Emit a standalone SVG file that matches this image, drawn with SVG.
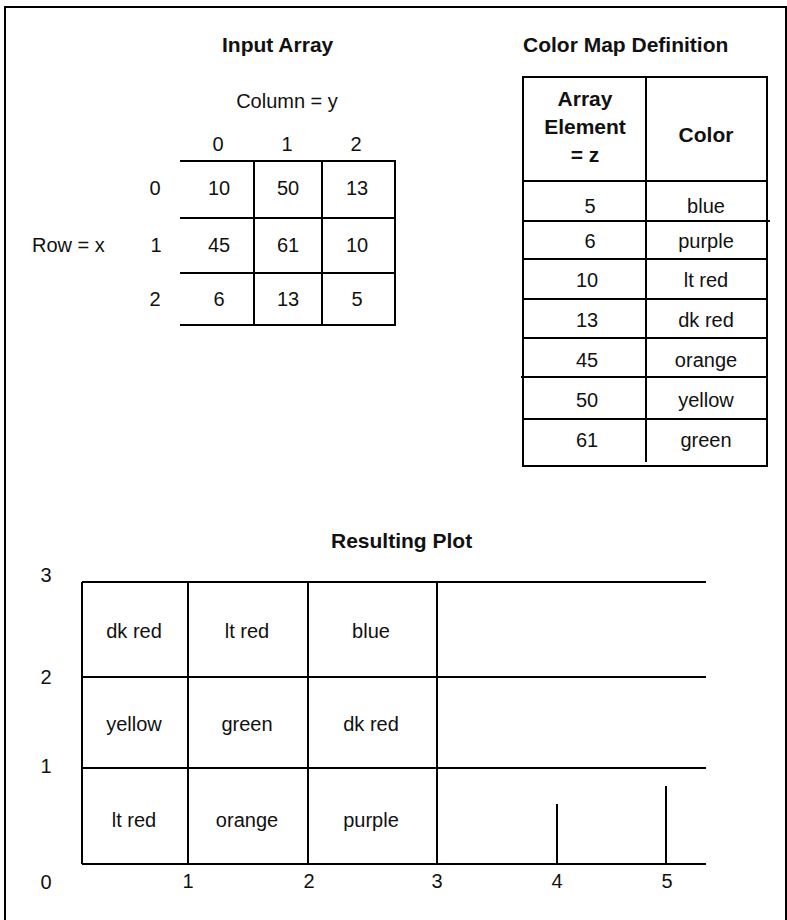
<svg xmlns="http://www.w3.org/2000/svg" width="787" height="920" viewBox="0 0 787 920">
<style>
text{font-family:"Liberation Sans",Arial,sans-serif;font-size:20px;fill:#111}
.b{font-weight:bold;font-size:21px}
.m{text-anchor:middle}
.ln{stroke:#000;stroke-width:2;fill:none}
</style>
<rect width="787" height="920" fill="#fff"/>
<path class="ln" d="M5,925 V7 H786 V925"/>
<g id="input-array">
<text class="b" x="222" y="52">Input Array</text>
<text class="m" x="287" y="108">Column = y</text>
<text class="m" x="218" y="151">0</text>
<text class="m" x="287" y="151">1</text>
<text class="m" x="356" y="151">2</text>
<text x="32" y="252">Row = x</text>
<text class="m" x="155" y="195">0</text>
<text class="m" x="156" y="252">1</text>
<text class="m" x="155" y="306">2</text>
<path class="ln" d="M180,161 H396 M180,218 H396 M180,273 H396 M180,325 H396 M254,161 V325 M322,161 V325 M395,161 V325"/>
<text class="m" x="219" y="195">10</text>
<text class="m" x="288" y="195">50</text>
<text class="m" x="357" y="195">13</text>
<text class="m" x="219" y="252">45</text>
<text class="m" x="288" y="252">61</text>
<text class="m" x="357" y="252">10</text>
<text class="m" x="219" y="306">6</text>
<text class="m" x="288" y="306">13</text>
<text class="m" x="357" y="306">5</text>
</g>
<g id="color-map">
<text class="b" x="523" y="52">Color Map Definition</text>
<path class="ln" d="M523,77 H767 V466 H523 Z M646,77 V462 M523,181 H767 M523,221 H770 M523,259 H767 M523,299 H767 M523,338 H767 M521,377 H767 M523,419 H767"/>
<text class="b m" x="585" y="106">Array</text>
<text class="b m" x="585" y="134">Element</text>
<text class="b m" x="585" y="162">= z</text>
<text class="b m" x="706" y="142">Color</text>
<text class="m" x="590" y="213">5</text><text class="m" x="706" y="213">blue</text>
<text class="m" x="590" y="248">6</text><text class="m" x="706" y="248">purple</text>
<text class="m" x="587" y="287">10</text><text class="m" x="706" y="287">lt red</text>
<text class="m" x="587" y="327">13</text><text class="m" x="706" y="327">dk red</text>
<text class="m" x="587" y="367">45</text><text class="m" x="706" y="367">orange</text>
<text class="m" x="587" y="407">50</text><text class="m" x="706" y="407">yellow</text>
<text class="m" x="587" y="447">61</text><text class="m" x="706" y="447">green</text>
</g>
<g id="plot">
<text class="b" x="331" y="548">Resulting Plot</text>
<path class="ln" d="M82,582 H706 M82,677 H706 M82,768 H706 M82,864 H706 M82,582 V864 M188,582 V864 M308,582 V864 M437,582 V864 M557,804 V864 M666,786 V864"/>
<text class="m" x="46" y="582">3</text>
<text class="m" x="46" y="684">2</text>
<text class="m" x="46" y="773">1</text>
<text class="m" x="46" y="889">0</text>
<text class="m" x="188" y="888">1</text>
<text class="m" x="309" y="888">2</text>
<text class="m" x="437" y="888">3</text>
<text class="m" x="557" y="888">4</text>
<text class="m" x="667" y="888">5</text>
<text class="m" x="134" y="638">dk red</text>
<text class="m" x="247" y="638">lt red</text>
<text class="m" x="371" y="638">blue</text>
<text class="m" x="134" y="731">yellow</text>
<text class="m" x="247" y="731">green</text>
<text class="m" x="371" y="731">dk red</text>
<text class="m" x="134" y="827">lt red</text>
<text class="m" x="247" y="827">orange</text>
<text class="m" x="371" y="827">purple</text>
</g>
<g id="connectors"/>
</svg>
